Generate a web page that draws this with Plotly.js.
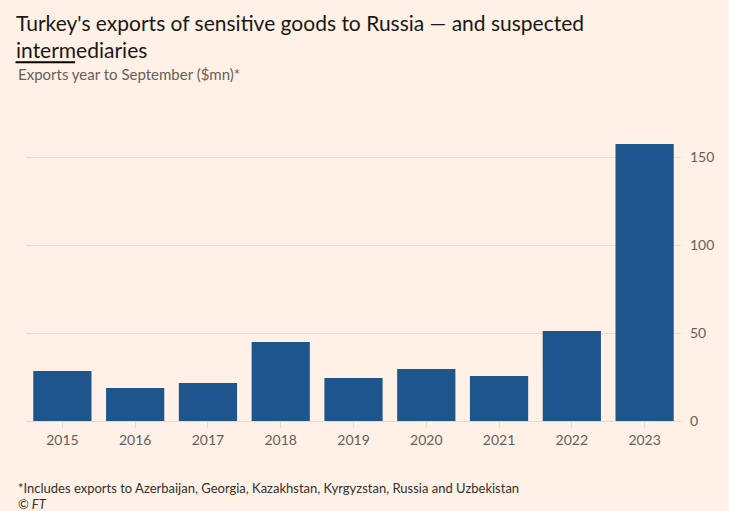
<!DOCTYPE html>
<html>
<head>
<meta charset="utf-8">
<script src="https://cdn.plot.ly/plotly-3.0.1.min.js"></script>
<style>body{margin:0;background:#FFF1E5}</style>
</head>
<body>
<div id="myDiv" style="width:729px;height:511px"></div>
<script>
var years = ['2015', '2016', '2017', '2018', '2019', '2020', '2021', '2022', '2023'];
var exportsMn = [28.4, 18.8, 21.6, 44.9, 24.4, 29.5, 25.6, 51.1, 157.4];

var data = [{
  x: years,
  y: exportsMn,
  type: 'bar',
  marker: { color: '#1F558D' },
  hoverinfo: 'x+y'
}];

var layout = {
  width: 729,
  height: 511,
  paper_bgcolor: '#FFF1E5',
  plot_bgcolor: '#FFF1E5',
  font: { family: 'Lato, sans-serif', color: '#66605C', size: 14 },
  margin: { l: 26, r: 48, t: 136, b: 90 },
  bargap: 0.2,
  showlegend: false,
  title: {
    text: "Turkey's exports of sensitive goods to Russia — and suspected<br>intermediaries",
    font: { family: 'Lato, sans-serif', size: 21, color: '#1A1817' },
    x: 0.022, xanchor: 'left', y: 0.94, yanchor: 'top'
  },
  xaxis: {
    showgrid: false,
    showline: true,
    linecolor: '#E6D9CE',
    ticks: 'outside',
    ticklen: 6,
    tickcolor: '#E6D9CE',
    tickfont: { size: 14, color: '#66605C' }
  },
  yaxis: {
    side: 'right',
    range: [0, 162],
    tickvals: [0, 50, 100, 150],
    gridcolor: '#E9DDD3',
    zeroline: false,
    ticklabelstandoff: 8,
    tickfont: { size: 14, color: '#66605C' }
  },
  shapes: [{
    type: 'rect', xref: 'paper', yref: 'paper',
    x0: -0.016, x1: 0.075, y0: 1.255, y1: 1.262,
    fillcolor: '#000', line: { width: 0 }
  }],
  annotations: [
    { text: 'Exports year to September ($mn)*', xref: 'paper', yref: 'paper',
      x: -0.016, y: 1.18, xanchor: 'left', yanchor: 'bottom', showarrow: false,
      font: { size: 15, color: '#66605C' } },
    { text: '*Includes exports to Azerbaijan, Georgia, Kazakhstan, Kyrgyzstan, Russia and Uzbekistan',
      xref: 'paper', yref: 'paper', x: -0.016, y: -0.2, xanchor: 'left', yanchor: 'top',
      showarrow: false, font: { size: 13, color: '#33302E' } },
    { text: '<i>© FT</i>', xref: 'paper', yref: 'paper', x: -0.016, y: -0.255,
      xanchor: 'left', yanchor: 'top', showarrow: false, font: { size: 13, color: '#33302E' } }
  ]
};

Plotly.newPlot('myDiv', data, layout, { displayModeBar: false });
</script>
</body>
</html>
